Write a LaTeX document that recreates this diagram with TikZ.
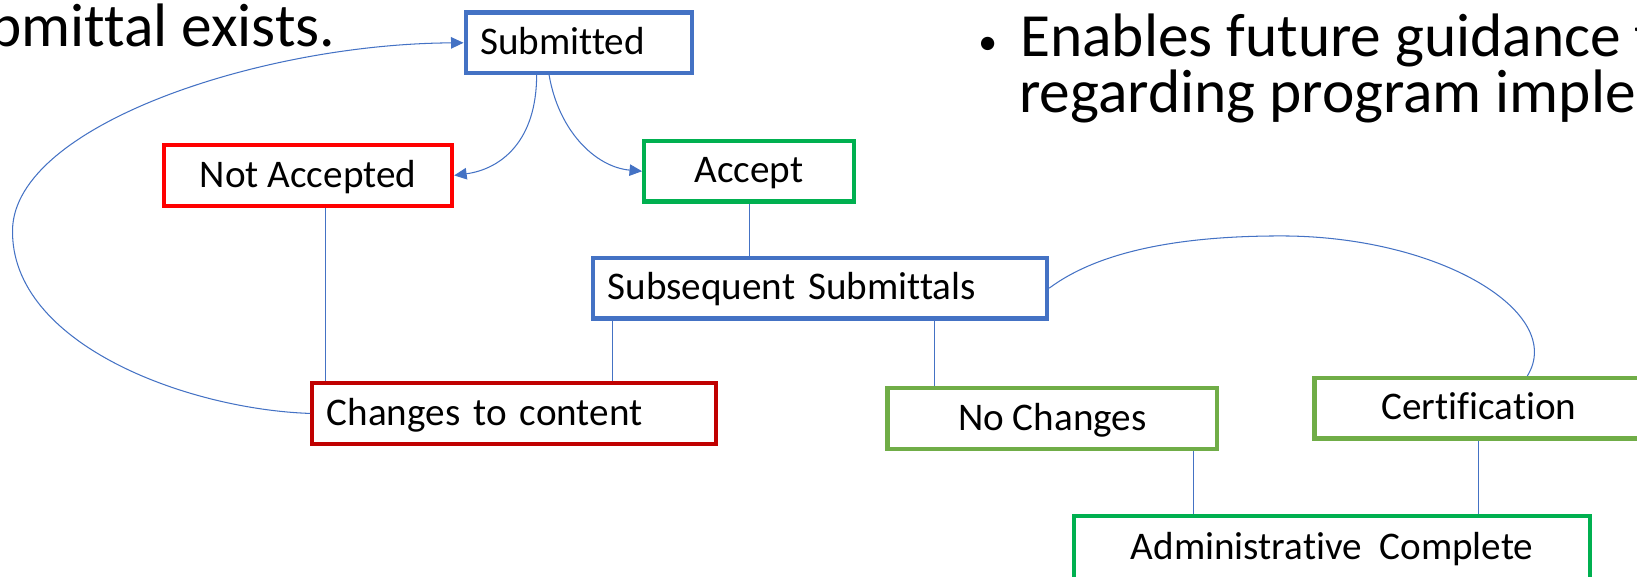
\documentclass[tikz,border=0pt]{standalone}
\usepackage{fontspec}
\setmainfont{Carlito}[Ligatures=NoCommon]
\usetikzlibrary{arrows.meta}

\definecolor{subblue}{HTML}{4472C4}
\definecolor{rejred}{HTML}{FF0000}
\definecolor{accgreen}{HTML}{00B050}
\definecolor{chgred}{HTML}{C00000}
\definecolor{leafgreen}{HTML}{70AD47}

\newcommand{\boxfont}{\fontsize{37.5}{45}\selectfont}
\newcommand{\slidefont}{\fontsize{58.8}{64}\selectfont}

\tikzset{
  box/.style={draw, line width=4pt, minimum height=58pt, inner sep=0pt,
    text height=30pt, text depth=7.5pt, font=\boxfont, align=center},
  lbox/.style={box, inner xsep=14pt, align=left},
  link/.style={draw=subblue, line width=1pt},
  arr/.style={link, -{Triangle[length=12pt,width=11pt]}},
  slide/.style={anchor=base west, inner sep=0pt, font=\slidefont}
}

\begin{document}
\begin{tikzpicture}[x=1pt,y=1pt,yscale=-1,xscale=1]
\useasboundingbox (0,0) rectangle (1568,552);

% Text Node
\node (exists) [slide] at (-10.5,45) {bmittal exists.};
\node (bul) [slide, font=\fontsize{36}{40}\selectfont] at (937,52) {\textbullet};
\node (guide1) [slide] at (977,54.5) {Enables future guidance t};
\node (guide2) [slide] at (976,107.5) {regarding program imple};

%Flowchart: Process
\node (sub) [lbox, draw=subblue, text width=189pt] at (554.5,41) {Submitted};
\node (notacc) [box, draw=rejred, minimum width=276pt] at (295,168) {Not Accepted};
\node (accept) [box, draw=accgreen, minimum width=201pt] at (717.5,164) {Accept};
\node (subseq) [lbox, draw=subblue, text width=407pt] at (785.5,276) {Subsequent Submittals};
\node (changes) [lbox, draw=chgred, text width=359pt] at (492.5,396) {Changes to content};
\node (nochg) [box, draw=leafgreen, minimum width=316pt] at (1008,401) {No Changes};
\node (cert) [box, draw=leafgreen, minimum width=315pt] at (1416.5,391) {Certification};
\node (admin) [box, draw=accgreen, minimum width=494pt, minimum height=62pt] at (1276,525) {Administrative\ \ Complete};

\coordinate (loopL) at (12,220);
\coordinate (arcTop) at (1227,226);

%Curve Lines
\draw [arr] ([xshift=-40.5pt]sub.south) .. controls (514,135) and (480,162) .. (notacc.east);
\draw [arr] ([xshift=-28.5pt]sub.south) .. controls (535,125) and (570,160) .. (accept.west);
\draw [arr] (changes.west) .. controls (180,392) and (10,330) .. (loopL)
  .. controls (14,120) and (250,42) .. (sub.west);
\draw [link] (subseq.east) .. controls (1060,235) and (1150,226) .. (arcTop)
  .. controls (1380,226) and (1500,300) .. ([xshift=46.5pt]cert.north);

%Straight Lines
\draw [link] ([xshift=17pt]notacc.south) -- ([xshift=17pt]notacc.south |- changes.north);
\draw [link] (accept.south) -- (accept.south |- subseq.north);
\draw [link] ([xshift=-198.5pt]subseq.south) -- ([xshift=-198.5pt]subseq.south |- changes.north);
\draw [link] ([xshift=109.5pt]subseq.south) -- ([xshift=109.5pt]subseq.south |- nochg.north);
\draw [link] ([xshift=135pt]nochg.south) -- ([xshift=135pt]nochg.south |- admin.north);
\draw [link] (cert.south) -- (cert.south |- admin.north);

\end{tikzpicture}
\end{document}
